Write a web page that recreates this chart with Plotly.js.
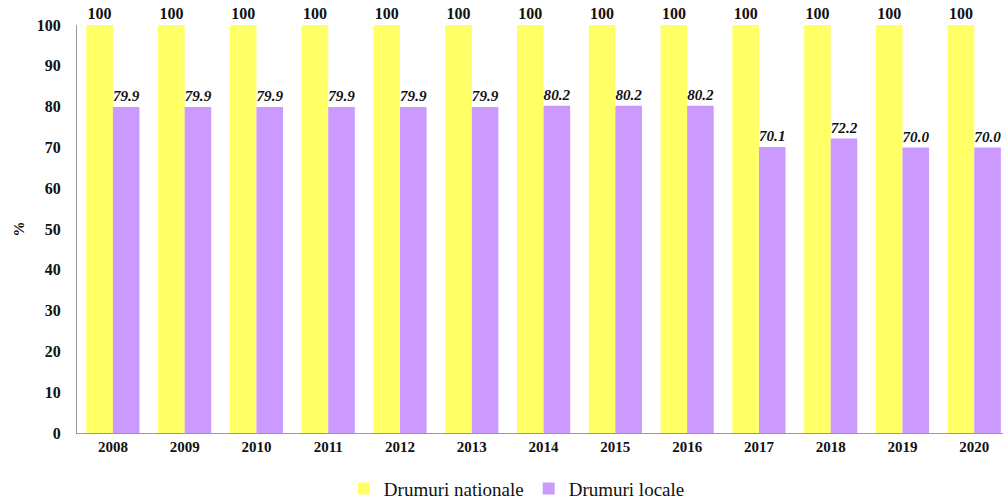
<!DOCTYPE html>
<html>
<head>
<meta charset="utf-8">
<script src="https://cdn.plot.ly/plotly-3.0.1.min.js"></script>
<style>html,body{margin:0;padding:0;background:#fff;}#chart{width:1003px;height:500px;}</style>
</head>
<body>
<div id="chart"></div>
<script>
const years = ['2008','2009','2010','2011','2012','2013','2014','2015','2016','2017','2018','2019','2020'];
const nationale = [100,100,100,100,100,100,100,100,100,100,100,100,100];
const locale = [79.9,79.9,79.9,79.9,79.9,79.9,80.2,80.2,80.2,70.1,72.2,70.0,70.0];

const serif = "'Liberation Serif', 'Times New Roman', Times, serif";

const traces = [
  {
    type: 'bar', name: 'Drumuri nationale', x: years, y: nationale,
    marker: {color: '#FFFF66'},
    text: nationale.map(v => '<b>' + v + '</b>'),
    textposition: 'outside', cliponaxis: false,
    textfont: {family: serif, size: 16, color: '#111'}
  },
  {
    type: 'bar', name: 'Drumuri locale', x: years, y: locale,
    marker: {color: '#CC99FF'},
    text: locale.map(v => '<b><i>' + v.toFixed(1) + '</i></b>'),
    textposition: 'outside', cliponaxis: false,
    textfont: {family: serif, size: 16, color: '#111'}
  }
];

const layout = {
  width: 1003, height: 500,
  margin: {l: 77, r: 0, t: 25, b: 67, autoexpand: false},
  paper_bgcolor: '#fff', plot_bgcolor: '#fff',
  barmode: 'group', bargap: 0.26, bargroupgap: 0,
  font: {family: serif, color: '#111'},
  xaxis: {
    type: 'category', range: [-0.5, 12.4],
    showline: true, linecolor: '#999', linewidth: 1,
    ticks: '', showgrid: false, automargin: false,
    tickfont: {family: serif, size: 15, color: '#111', weight: 'bold'}
  },
  yaxis: {
    range: [0, 100], dtick: 10, showgrid: false, zeroline: false,
    showline: true, linecolor: '#999', linewidth: 1, ticks: '',
    ticklabelstandoff: 12, automargin: false,
    tickfont: {family: serif, size: 16, color: '#111', weight: 'bold'},
    title: {text: '<b>%</b>', font: {family: serif, size: 15, color: '#111'}, standoff: 8}
  },
  showlegend: true,
  legend: {
    orientation: 'h', x: 0.475, xanchor: 'center', y: -0.09, yanchor: 'top',
    font: {family: serif, size: 19, color: '#111'},
    itemwidth: 30, traceorder: 'normal'
  }
};

Plotly.newPlot('chart', traces, layout, {displayModeBar: false, responsive: false});
</script>
</body>
</html>
